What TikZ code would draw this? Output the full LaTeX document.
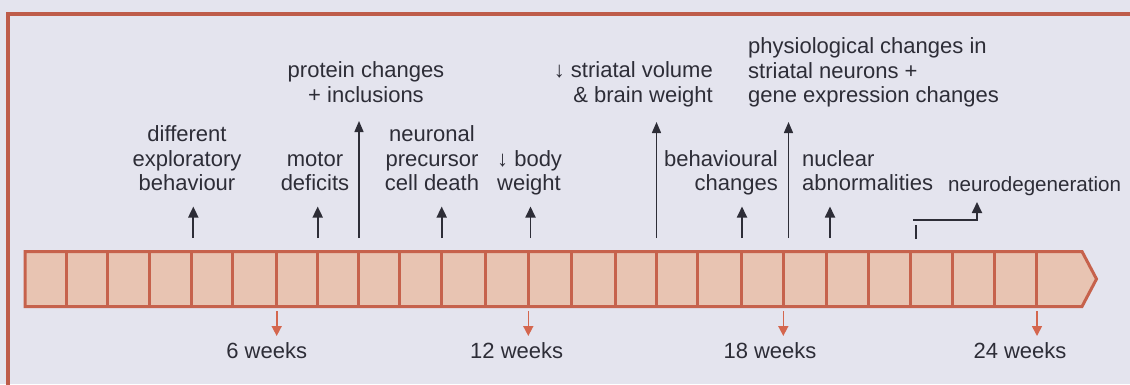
\documentclass[tikz,border=0pt]{standalone}
\usepackage{fontspec}
\setmainfont{Liberation Sans}
\usetikzlibrary{arrows.meta}
\definecolor{bgc}{RGB}{228,228,238}
\definecolor{framec}{RGB}{190,92,74}
\definecolor{cellc}{RGB}{198,98,76}
\definecolor{cellfill}{RGB}{232,196,178}
\definecolor{txtc}{RGB}{45,45,55}
\definecolor{redc}{RGB}{212,102,78}
\begin{document}
\begin{tikzpicture}[x=1pt,y=-1pt,
  lbl/.style={font=\fontsize{22}{24.5}\selectfont, text=txtc, inner sep=0pt},
  blk/.style={draw=txtc, line width=1.8pt, -{Triangle[width=10pt,length=11pt]}},
  lng/.style={draw=txtc, line width=1.4pt, -{Triangle[width=9pt,length=11pt]}},
  plain/.style={draw=txtc, line width=1.6pt},
  redarrow/.style={draw=redc, line width=1.6pt, -{Triangle[width=10pt,length=10pt]}},
  cellline/.style={draw=cellc, line width=3pt}
]
\useasboundingbox (0,0) rectangle (1130,384);
\clip (0,0) rectangle (1130,384);
\fill[bgc] (0,0) rectangle (1130,384);
\draw[framec, line width=4pt] (8,13.5) rectangle (1150,400);

% timeline bar
\filldraw[fill=cellfill, cellline, line join=miter]
  (25,251.5) -- (1082,251.5) -- (1096.5,279) -- (1082,306.5) -- (25,306.5) -- cycle;
\foreach \xx in {66.7,107.3,149.3,191,232.7,276.7,317.7,358.3,399.3,441.7,485,528.3,571,615,656,697.7,741.7,783.3,826,868.3,910,952.7,994.3,1036}
  \draw[cellline] (\xx,251.5) -- (\xx,306.5);

% labels above (anchor = baseline of the last line)
\node[lbl, align=center, anchor=base] (t1) at (187,190.5) {different\\exploratory\\behaviour};
\node[lbl, align=center, anchor=base] (t2) at (315,190.5) {motor\\deficits};
\node[lbl, align=center, anchor=base] (t3) at (366,102) {protein changes\\+ inclusions};
\node[lbl, align=center, anchor=base] (t4) at (432,190.5) {neuronal\\precursor\\cell death};
\node[lbl, align=left, anchor=base west] (t5) at (497,190.5) {↓ body\\weight};
\node[lbl, align=right, anchor=base east] (t6) at (713,102) {↓ striatal volume\\\& brain weight};
\node[lbl, align=right, anchor=base east] (t7) at (778,190.5) {behavioural\\changes};
\node[lbl, align=left, anchor=base west] (t8) at (748,102.5) {physiological changes in\\striatal neurons +\\gene expression changes};
\node[lbl, align=left, anchor=base west] (t9) at (802,190.5) {nuclear\\abnormalities};
\node[lbl, font=\fontsize{20.6}{24.5}\selectfont, anchor=base west] (t10) at (948,191) {neurodegeneration};

% arrows above
\coordinate (b1) at (193.3,238); \coordinate (h1) at (193.3,206.5);
\coordinate (b2) at (317.7,238); \coordinate (h2) at (317.7,206.5);
\coordinate (b3) at (359,238);   \coordinate (h3) at (359,121);
\coordinate (b4) at (441.7,238); \coordinate (h4) at (441.7,206.5);
\coordinate (b5) at (530.5,238); \coordinate (h5) at (530.5,206.5);
\coordinate (b6) at (656.5,238); \coordinate (h6) at (656.5,122);
\coordinate (b7) at (742,238);   \coordinate (h7) at (742,206.5);
\coordinate (b8) at (788.5,238); \coordinate (h8) at (788.5,122);
\coordinate (b9) at (830,238);   \coordinate (h9) at (830,206.5);
\coordinate (n0) at (916,239);   \coordinate (n1) at (916,225);
\coordinate (n2) at (913,220);   \coordinate (n3) at (977,202);
\draw[blk] (b1) -- (h1);
\draw[blk] (b2) -- (h2);
\draw[lng] (b3) -- (h3);
\draw[blk] (b4) -- (h4);
\draw[blk] (b5) -- (h5);
\draw[lng] (b6) -- (h6);
\draw[blk] (b7) -- (h7);
\draw[lng] (b8) -- (h8);
\draw[blk] (b9) -- (h9);
\draw[plain] (n0) -- (n1);
\draw[blk] (n2) -| (n3);

% week markers
\coordinate (r1a) at (276.7,311); \coordinate (r1b) at (276.7,336);
\coordinate (r2a) at (528.3,311); \coordinate (r2b) at (528.3,336);
\coordinate (r3a) at (783.3,311); \coordinate (r3b) at (783.3,336);
\coordinate (r4a) at (1037,311);  \coordinate (r4b) at (1037,336);
\draw[redarrow] (r1a) -- (r1b);
\draw[redarrow] (r2a) -- (r2b);
\draw[redarrow] (r3a) -- (r3b);
\draw[redarrow] (r4a) -- (r4b);
\node[lbl, anchor=base] (w1) at (266.7,358) {6 weeks};
\node[lbl, anchor=base] (w2) at (516.7,358) {12 weeks};
\node[lbl, anchor=base] (w3) at (770,358) {18 weeks};
\node[lbl, anchor=base] (w4) at (1020,358) {24 weeks};
\end{tikzpicture}
\end{document}
